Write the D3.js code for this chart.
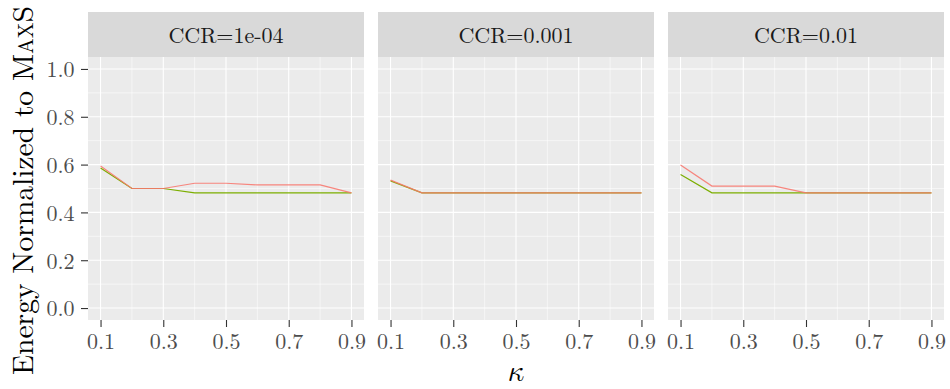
<!DOCTYPE html>
<html>
<head>
<meta charset="utf-8">
<script src="https://cdn.jsdelivr.net/npm/d3@7"></script>
<style>
  body { margin: 0; background: #fff; }
</style>
</head>
<body>
<div id="chart"></div>
<script>
// data
const kappa = [0.1, 0.2, 0.3, 0.4, 0.5, 0.6, 0.7, 0.8, 0.9];
const facets = ["CCR=1e-04", "CCR=0.001", "CCR=0.01"];
const xTicks = [0.1, 0.3, 0.5, 0.7, 0.9];
const yTicks = [0, 0.2, 0.4, 0.6, 0.8, 1.0];

// red series, one row per facet
const seriesRed = [
  [0.594, 0.500, 0.500, 0.522, 0.522, 0.515, 0.515, 0.515, 0.482],
  [0.535, 0.482, 0.482, 0.482, 0.482, 0.482, 0.482, 0.482, 0.482],
  [0.598, 0.510, 0.510, 0.510, 0.482, 0.482, 0.482, 0.482, 0.482]
];
// green series
const seriesGreen = [
  [0.586, 0.500, 0.500, 0.482, 0.482, 0.482, 0.482, 0.482, 0.482],
  [0.532, 0.482, 0.482, 0.482, 0.482, 0.482, 0.482, 0.482, 0.482],
  [0.559, 0.482, 0.482, 0.482, 0.482, 0.482, 0.482, 0.482, 0.482]
];

const FONT = "'Latin Modern Roman', 'Liberation Serif', serif";

let width = 950, height = 389;
let panelW = 276, gap = 14, left0 = 88;
let stripTop = 12, panelTop = 57, panelBottom = 320;

let svg = d3.select("#chart").append("svg")
  .attr("width", width)
  .attr("height", height);

// ggplot style 5% expansion
let x = d3.scaleLinear().domain([0.06, 0.94]).range([0, panelW]);
let y = d3.scaleLinear().domain([-0.05, 1.05]).range([panelBottom - panelTop, 0]);

let line = d3.line()
  .x(function(d) { return x(d.k); })
  .y(function(d) { return y(d.v); });

facets.forEach(function(label, i) {
  let gx = left0 + i * (panelW + gap);
  let g = svg.append("g").attr("transform", "translate(" + gx + "," + panelTop + ")");

  /* ------- strip -------*/
  svg.append("rect")
    .attr("x", gx).attr("y", stripTop)
    .attr("width", panelW).attr("height", panelTop - stripTop)
    .attr("fill", "#d9d9d9");
  svg.append("text")
    .attr("x", gx + panelW / 2).attr("y", 43)
    .attr("text-anchor", "middle")
    .attr("fill", "#1a1a1a")
    .style("font-family", FONT)
    .style("font-size", "22px")
    .text(label);

  /* ------- panel + grid -------*/
  g.append("rect")
    .attr("width", panelW).attr("height", panelBottom - panelTop)
    .attr("fill", "#ebebeb");

  let yMinor = [0.1, 0.3, 0.5, 0.7, 0.9];
  let xMinor = [0.2, 0.4, 0.6, 0.8];

  g.selectAll("line.ymin").data(yMinor).enter().append("line")
    .attr("x1", 0).attr("x2", panelW)
    .attr("y1", d => y(d)).attr("y2", d => y(d))
    .attr("stroke", "#fff").attr("stroke-width", 0.55);
  g.selectAll("line.xmin").data(xMinor).enter().append("line")
    .attr("y1", 0).attr("y2", panelBottom - panelTop)
    .attr("x1", d => x(d)).attr("x2", d => x(d))
    .attr("stroke", "#fff").attr("stroke-width", 0.55);
  g.selectAll("line.ymaj").data(yTicks).enter().append("line")
    .attr("x1", 0).attr("x2", panelW)
    .attr("y1", d => y(d)).attr("y2", d => y(d))
    .attr("stroke", "#fff").attr("stroke-width", 1.1);
  g.selectAll("line.xmaj").data(xTicks).enter().append("line")
    .attr("y1", 0).attr("y2", panelBottom - panelTop)
    .attr("x1", d => x(d)).attr("x2", d => x(d))
    .attr("stroke", "#fff").attr("stroke-width", 1.1);

  /* ------- lines -------*/
  let green = kappa.map((k, j) => ({ k: k, v: seriesGreen[i][j] }));
  let red = kappa.map((k, j) => ({ k: k, v: seriesRed[i][j] }));
  g.append("path").datum(green)
    .attr("d", line).attr("fill", "none")
    .attr("stroke", "#7cae00").attr("stroke-width", 1.2);
  g.append("path").datum(red)
    .attr("d", line).attr("fill", "none")
    .attr("stroke", "#f8766d").attr("stroke-width", 1.2)
    .attr("stroke-opacity", 0.88);

  /* ------- x axis -------*/
  let xa = g.append("g")
    .attr("transform", "translate(0," + (panelBottom - panelTop) + ")")
    .call(d3.axisBottom(x).tickValues(xTicks).tickFormat(d3.format(".1f")).tickSize(7));
  xa.select(".domain").remove();
  xa.selectAll(".tick line").attr("stroke", "#333").attr("stroke-width", 1.1);
  xa.selectAll(".tick text")
    .attr("fill", "#4d4d4d")
    .attr("dy", null).attr("y", 28.5)
    .style("font-size", "22px")
    .style("font-family", FONT);

  /* ------- y axis on first panel only -------*/
  if (i === 0) {
    let ya = g.append("g")
      .call(d3.axisLeft(y).tickValues(yTicks).tickFormat(d3.format(".1f")).tickSize(7));
    ya.select(".domain").remove();
    ya.selectAll(".tick line").attr("stroke", "#333").attr("stroke-width", 1.1);
    ya.selectAll(".tick text")
      .attr("fill", "#4d4d4d")
      .attr("x", -13.5)
      .attr("dy", "0.36em")
      .style("font-size", "22px")
      .style("font-family", FONT);
  }
});

/* ------- axis titles -------*/
svg.append("text")
  .attr("x", left0 + (3 * panelW + 2 * gap) / 2)
  .attr("y", 381)
  .attr("text-anchor", "middle")
  .style("font-family", "'Latin Modern Math', 'DejaVu Serif', serif")
  .style("font-size", "29px")
  .text("\u{1D705}");

// title is wider than the plot height, so it runs off the top like the original
let yt = svg.append("text")
  .attr("transform", "translate(33,375) rotate(-90)")
  .attr("text-anchor", "start")
  .style("font-family", FONT)
  .style("font-size", "29.5px");
yt.append("tspan").text("Energy Normalized to ");
yt.append("tspan").style("font-variant", "small-caps").text("MaxS");
</script>
</body>
</html>
